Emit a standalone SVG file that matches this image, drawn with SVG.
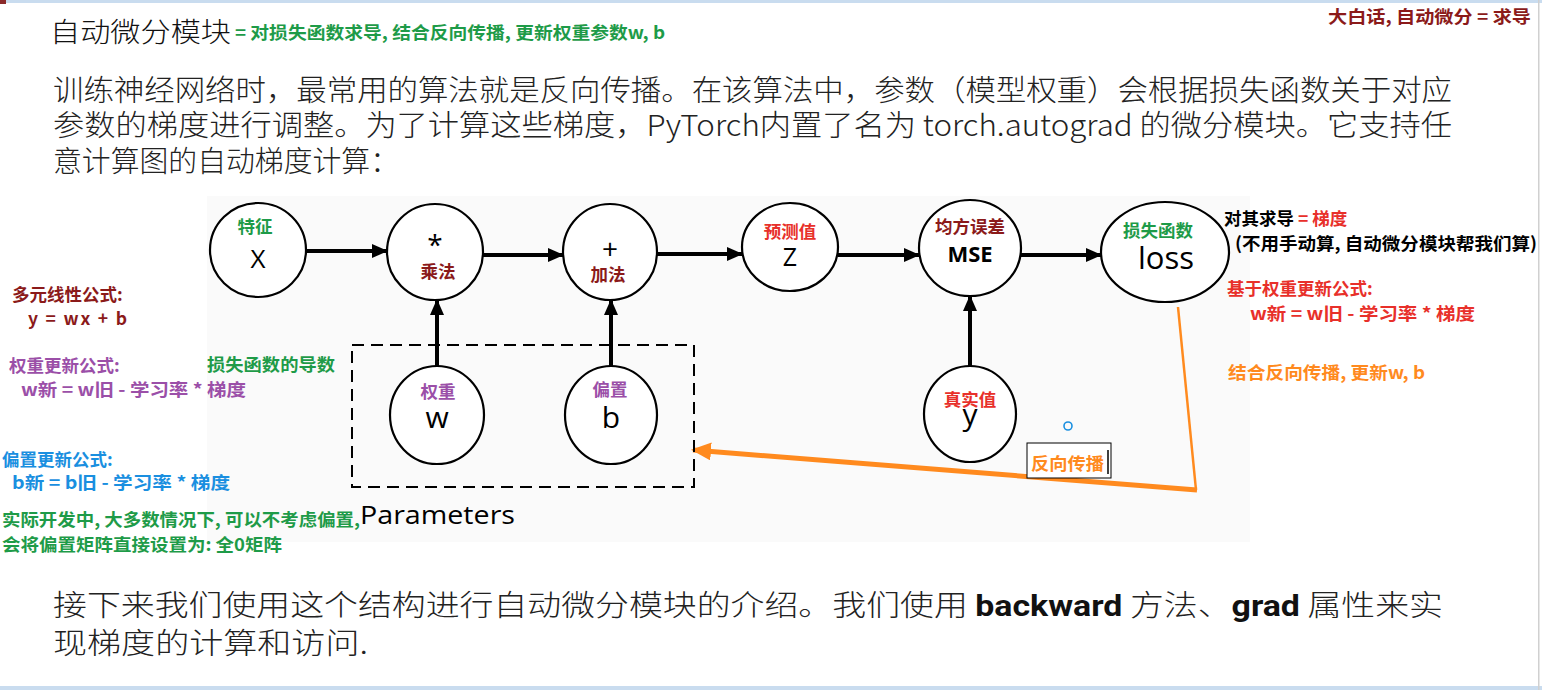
<svg xmlns="http://www.w3.org/2000/svg" width="1542" height="690" viewBox="0 0 1542 690">
<defs>
<marker id="ah" markerUnits="userSpaceOnUse" markerWidth="16" markerHeight="14" refX="15" refY="7" orient="auto"><path d="M0,0 L16,7 L0,14 z" fill="#000"/></marker>
<marker id="ahO" markerUnits="userSpaceOnUse" markerWidth="20" markerHeight="18" refX="18" refY="9" orient="auto"><path d="M0,0 L20,9 L0,18 z" fill="#ff8a1e"/></marker>
<style>
.cjk{font-family:"Noto Sans CJK SC","Noto Sans",sans-serif;}
.para{font-family:"Noto Sans CJK SC","Noto Sans",sans-serif;font-size:29px;fill:#222;font-weight:300;}
.lab{font-family:"Noto Sans CJK SC","Noto Sans",sans-serif;font-weight:bold;font-size:17.5px;}
.nl{font-family:"Noto Sans CJK SC","Noto Sans",sans-serif;font-weight:bold;font-size:17.5px;text-anchor:middle;}
.sym{font-family:"Open Sans","Liberation Sans",sans-serif;text-anchor:middle;fill:#000;}
.node{fill:#fff;stroke:#000;stroke-width:2.2;}
.edge{stroke:#000;stroke-width:4;fill:none;}
.green{fill:#1e9b48;}
.dred{fill:#8b1a1a;}
.red{fill:#e8302a;}
.purple{fill:#9b4fa8;}
.blue{fill:#1a8fe0;}
.orange{fill:#ff8a1e;}
</style>
</defs>
<rect width="1542" height="690" fill="#fff"/>
<rect x="0" y="0" width="1542" height="3" fill="#c9dcef"/>
<rect x="0" y="0" width="6" height="4" fill="#8b2a2a"/>
<rect x="0" y="686" width="1542" height="4" fill="#c9dcef"/>
<rect x="1538" y="0" width="1.5" height="690" fill="#d0d0d0"/>

<g id="title">
<text x="50" y="42" class="cjk" font-size="27" fill="#111" textLength="181" lengthAdjust="spacingAndGlyphs" font-weight="300">自动微分模块</text>
<text x="235" y="39" class="lab green" font-size="17" textLength="430" lengthAdjust="spacingAndGlyphs">= 对损失函数求导, 结合反向传播, 更新权重参数w, b</text>
<text x="1328" y="23" class="lab dred" font-size="17" textLength="203" lengthAdjust="spacingAndGlyphs">大白话, 自动微分 = 求导</text>
</g>

<g id="intro">
<text x="53" y="101" class="para" textLength="1399" lengthAdjust="spacingAndGlyphs">训练神经网络时，最常用的算法就是反向传播。在该算法中，参数（模型权重）会根据损失函数关于对应</text>
<text x="53" y="136" class="para" textLength="1399" lengthAdjust="spacingAndGlyphs">参数的梯度进行调整。为了计算这些梯度，PyTorch内置了名为 torch.autograd 的微分模块。它支持任</text>
<text x="53" y="172" class="para" textLength="346" lengthAdjust="spacingAndGlyphs">意计算图的自动梯度计算：</text>
</g>

<rect x="207" y="196" width="1043" height="346" fill="#fafafa"/>

<g id="connectors">
<line x1="307" y1="251" x2="387" y2="251" class="edge" marker-end="url(#ah)"/>
<line x1="483" y1="255" x2="563" y2="255" class="edge" marker-end="url(#ah)"/>
<line x1="657" y1="254" x2="742" y2="254" class="edge" marker-end="url(#ah)"/>
<line x1="838" y1="255" x2="919" y2="255" class="edge" marker-end="url(#ah)"/>
<line x1="1021" y1="255" x2="1101" y2="255" class="edge" marker-end="url(#ah)"/>
<line x1="437" y1="366" x2="437" y2="300" class="edge" marker-end="url(#ah)"/>
<line x1="611" y1="366" x2="611" y2="300" class="edge" marker-end="url(#ah)"/>
<line x1="970" y1="368" x2="970" y2="296" class="edge" marker-end="url(#ah)"/>
<line x1="1178" y1="307" x2="1196" y2="490" stroke="#ff8a1e" stroke-width="2.5"/>
<line x1="1197" y1="490" x2="693" y2="450" stroke="#ff8a1e" stroke-width="5" marker-end="url(#ahO)"/>
</g>

<rect x="352" y="345" width="342" height="142" fill="none" stroke="#000" stroke-width="2" stroke-dasharray="12,7"/>
<text x="360" y="524" font-family="Open Sans, Liberation Sans, sans-serif" font-size="26" fill="#000" textLength="155" lengthAdjust="spacingAndGlyphs">Parameters</text>

<g id="node-x">
<ellipse cx="258" cy="250" rx="48" ry="47" class="node"/>
<text x="255" y="233" class="nl green">特征</text>
<text x="258" y="268" class="sym" font-size="26">X</text>
</g>
<g id="node-mul">
<ellipse cx="435" cy="252" rx="48" ry="48" class="node"/>
<text x="435" y="255" class="sym" font-size="28">*</text>
<text x="438" y="278" class="nl dred">乘法</text>
</g>
<g id="node-add">
<ellipse cx="610" cy="252" rx="47" ry="48" class="node"/>
<text x="610" y="259" class="sym" font-size="28">+</text>
<text x="608" y="281" class="nl dred">加法</text>
</g>
<g id="node-z">
<ellipse cx="790" cy="247" rx="48" ry="44" class="node"/>
<text x="790" y="238" class="nl red">预测值</text>
<text x="790" y="266" class="sym" font-size="25">Z</text>
</g>
<g id="node-mse">
<ellipse cx="970" cy="248" rx="51" ry="48" class="node"/>
<text x="970" y="233" class="nl dred">均方误差</text>
<text x="970" y="262" class="sym" font-size="22" font-weight="bold">MSE</text>
</g>
<g id="node-loss">
<ellipse cx="1165" cy="252" rx="64" ry="50" class="node"/>
<text x="1158" y="237" class="nl green">损失函数</text>
<text x="1166" y="269" class="sym" font-size="31">loss</text>
</g>
<g id="node-w">
<ellipse cx="437" cy="415" rx="47" ry="49" class="node"/>
<text x="438" y="398" class="nl purple">权重</text>
<text x="437" y="428" class="sym" font-size="30">w</text>
</g>
<g id="node-b">
<ellipse cx="611" cy="415" rx="46" ry="49" class="node"/>
<text x="610" y="396" class="nl purple">偏置</text>
<text x="611" y="428" class="sym" font-size="30">b</text>
</g>
<g id="node-y">
<ellipse cx="970" cy="414" rx="46" ry="48" class="node"/>
<text x="970" y="425" class="sym" font-size="30">y</text>
<text x="970" y="406" class="nl red">真实值</text>
</g>

<g id="backprop-label">
<rect x="1027" y="443" width="84" height="35" fill="#fff" stroke="#000" stroke-width="1"/>
<text x="1031" y="470" class="lab orange" font-size="18" textLength="73" lengthAdjust="spacingAndGlyphs">反向传播</text>
<line x1="1108" y1="450" x2="1108" y2="474" stroke="#000" stroke-width="1.5"/>
</g>
<circle cx="1068" cy="426" r="4" fill="none" stroke="#1a8fe0" stroke-width="1.6"/>

<g id="right-notes">
<text x="1224" y="225" class="lab"><tspan fill="#000">对其求导</tspan><tspan class="red"> = 梯度</tspan></text>
<text x="1235" y="250" class="lab" fill="#000" textLength="302" lengthAdjust="spacingAndGlyphs">(不用手动算, 自动微分模块帮我们算)</text>
<text x="1227" y="295" class="lab red">基于权重更新公式:</text>
<text x="1250" y="320" class="lab red" textLength="225" lengthAdjust="spacingAndGlyphs">w新 = w旧 - 学习率 * 梯度</text>
<text x="1228" y="379" class="lab orange" textLength="197" lengthAdjust="spacingAndGlyphs">结合反向传播, 更新w, b</text>
</g>

<g id="left-notes">
<text x="12" y="301" class="lab dred">多元线性公式:</text>
<text x="28" y="325" class="lab dred" textLength="99" lengthAdjust="spacing">y = wx + b</text>
<text x="9" y="372" class="lab purple">权重更新公式:</text>
<text x="21" y="396" class="lab purple" textLength="225" lengthAdjust="spacingAndGlyphs">w新 = w旧 - 学习率 * 梯度</text>
<text x="207" y="371" class="lab green" textLength="128" lengthAdjust="spacingAndGlyphs">损失函数的导数</text>
<text x="2" y="466" class="lab blue">偏置更新公式:</text>
<text x="12" y="489" class="lab blue" textLength="218" lengthAdjust="spacingAndGlyphs">b新 = b旧 - 学习率 * 梯度</text>
<text x="2" y="526" class="lab green" textLength="358" lengthAdjust="spacingAndGlyphs">实际开发中, 大多数情况下, 可以不考虑偏置,</text>
<text x="2" y="551" class="lab green" textLength="280" lengthAdjust="spacingAndGlyphs">会将偏置矩阵直接设置为: 全0矩阵</text>
</g>

<g id="outro">
<text x="53" y="616" class="para" textLength="1390" lengthAdjust="spacingAndGlyphs">接下来我们使用这个结构进行自动微分模块的介绍。我们使用 <tspan font-family="Roboto, Liberation Sans, sans-serif" font-weight="bold" fill="#111">backward</tspan> 方法、<tspan font-family="Roboto, Liberation Sans, sans-serif" font-weight="bold" fill="#111">grad</tspan> 属性来实</text>
<text x="53" y="654" class="para" textLength="315" lengthAdjust="spacingAndGlyphs">现梯度的计算和访问.</text>
</g>
</svg>
